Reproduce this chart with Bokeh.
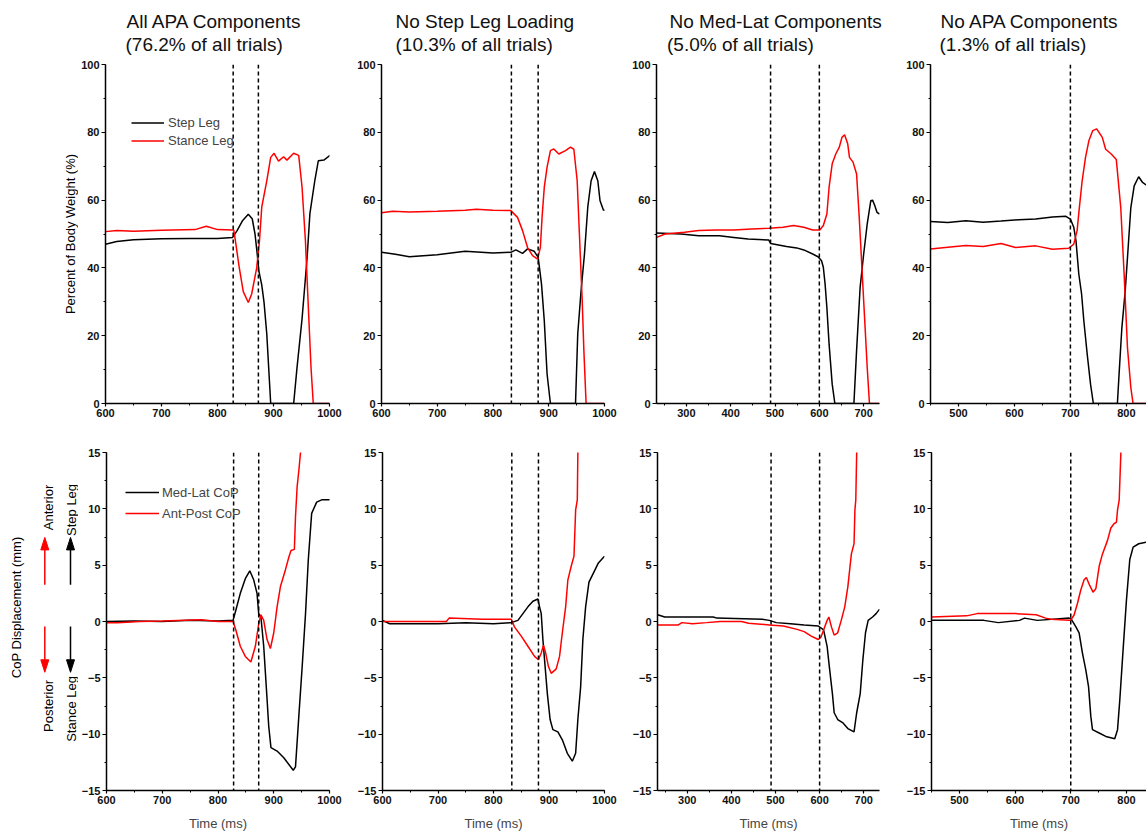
import math
from bokeh.plotting import figure
from bokeh.layouts import row, column
from bokeh.models import Range1d, Span, Legend, LegendItem, SingleIntervalTicker
from bokeh.embed import file_html
from bokeh.resources import INLINE
from bokeh.core.properties import value

FONT = "Liberation Sans"
BLACK = "#000000"
RED = "#ff0000"

# ---------------- data (time in ms, body weight %, CoP mm) ----------------
# Panel A: All APA Components
A_step_t = [600, 620, 650, 700, 750, 800, 827, 835, 845, 855, 862, 867, 871, 874, 879, 883, 888, 895, 936, 942, 951, 960, 965, 974, 980, 990, 1001]
A_step_v = [47.0, 47.8, 48.3, 48.6, 48.7, 48.7, 49.0, 51.0, 54.0, 55.8, 54.5, 50.0, 44.0, 39.0, 35.0, 30.0, 20.5, 0.0, 0.0, 10.6, 25.0, 43.0, 56.0, 66.0, 71.6, 71.8, 73.2]
A_stance_t = [600, 620, 650, 700, 760, 780, 800, 829, 832, 838, 846, 855, 861, 870, 875, 879, 888, 895, 901, 909, 918, 924, 936, 945, 951, 957, 963, 967, 971, 1000]
A_stance_v = [50.7, 51.0, 50.8, 51.1, 51.3, 52.3, 51.3, 51.2, 48.0, 41.0, 33.0, 29.8, 32.3, 40.0, 48.0, 57.9, 65.7, 72.6, 73.8, 71.5, 72.8, 71.8, 73.8, 73.2, 63.8, 48.0, 25.4, 10.6, 0.0, 0.0]
A_ml_t = [600, 650, 700, 750, 800, 827, 832, 840, 849, 857, 864, 870, 873, 877, 882, 887, 891, 895, 906, 918, 935, 939, 945, 951, 957, 962, 968, 977, 986, 1001]
A_ml_v = [0.0, 0.05, 0.0, 0.1, 0.05, 0.1, 1.0, 2.5, 3.8, 4.5, 3.7, 2.5, 0.7, 0.4, -2.2, -6.1, -9.3, -11.2, -11.5, -12.1, -13.2, -12.9, -8.4, -4.0, 0.7, 5.5, 9.6, 10.6, 10.8, 10.8]
A_ap_t = [600, 620, 660, 700, 770, 800, 827, 832, 840, 849, 859, 867, 873, 877, 882, 888, 894, 900, 906, 912, 921, 927, 931, 937, 939, 942, 945, 948, 952]
A_ap_v = [-0.1, -0.1, 0.0, 0.05, 0.15, 0.0, 0.0, -0.75, -2.2, -3.1, -3.6, -2.2, -0.2, 0.6, 0.1, -1.6, -2.4, -1.0, 1.3, 3.1, 4.6, 5.7, 6.3, 6.4, 9.3, 12.0, 13.4, 15.0, 18.0]

# Panel B: No Step Leg Loading
B_step_t = [600, 625, 650, 700, 750, 800, 832, 841, 853, 862, 874, 881, 884, 887, 892, 897, 903, 948, 952, 958, 964, 970, 976, 982, 988, 992, 998, 1001]
B_step_v = [44.6, 44.0, 43.3, 43.9, 44.9, 44.4, 44.6, 45.3, 44.3, 45.6, 44.9, 43.1, 39.2, 35.2, 24.4, 8.7, 0.0, 0.0, 20.5, 33.3, 44.0, 57.9, 65.7, 68.4, 65.7, 59.8, 57.1, 57.0]
B_stance_t = [600, 620, 650, 700, 750, 770, 800, 832, 844, 853, 862, 871, 880, 885, 888, 892, 897, 903, 909, 918, 930, 939, 945, 951, 955, 960, 963, 967, 1000]
B_stance_v = [56.3, 56.7, 56.5, 56.7, 57.0, 57.3, 57.0, 56.9, 54.9, 51.0, 46.0, 43.6, 42.6, 46.1, 54.9, 63.8, 69.7, 74.6, 75.1, 73.6, 74.6, 75.6, 75.0, 65.7, 50.0, 30.3, 15.6, 0.0, 0.0]
B_ml_t = [600, 613, 650, 700, 750, 800, 832, 844, 853, 862, 871, 880, 883, 886, 889, 893, 897, 902, 907, 916, 924, 933, 942, 948, 952, 957, 961, 966, 972, 980, 989, 1000]
B_ml_v = [0.1, -0.2, -0.2, -0.2, -0.1, -0.2, -0.1, 0.1, 0.7, 1.3, 1.8, 2.0, 1.3, 0.7, -1.6, -4.0, -6.4, -8.7, -9.6, -9.8, -10.5, -11.7, -12.4, -11.7, -8.7, -5.8, -1.6, 1.3, 3.5, 4.3, 5.2, 5.8]
B_ap_t = [600, 650, 715, 720, 780, 832, 838, 850, 862, 874, 881, 886, 890, 894, 899, 904, 913, 919, 924, 930, 934, 940, 945, 948, 951, 952, 956]
B_ap_v = [0.0, 0.0, 0.0, 0.3, 0.2, 0.2, -0.5, -1.3, -2.2, -3.1, -3.4, -2.8, -2.1, -2.8, -4.0, -4.6, -4.2, -3.1, -1.0, 1.3, 3.7, 4.9, 5.8, 9.9, 10.8, 15.0, 18.0]

# Panel C: No Med-Lat Components
C_step_t = [233, 288, 328, 375, 407, 439, 486, 490, 526, 549, 565, 585, 597, 605, 609, 613, 617, 622, 629, 635, 678, 684, 692, 700, 708, 716, 720, 725, 730, 736]
C_step_v = [50.3, 50.0, 49.5, 49.5, 49.0, 48.5, 48.2, 47.2, 46.3, 45.9, 45.3, 44.1, 43.3, 42.1, 40.2, 35.2, 28.3, 17.5, 5.7, 0.0, 0.0, 15.6, 34.3, 44.1, 53.0, 59.8, 60.0, 58.4, 56.4, 55.9]
C_stance_t = [233, 252, 296, 328, 367, 407, 447, 486, 518, 542, 565, 585, 601, 609, 617, 622, 629, 637, 645, 651, 657, 664, 668, 676, 684, 690, 696, 702, 708, 713, 736]
C_stance_v = [49.0, 50.0, 50.5, 51.0, 51.2, 51.2, 51.5, 51.7, 52.0, 52.5, 52.0, 51.2, 51.2, 52.5, 55.9, 63.8, 70.7, 73.6, 75.6, 78.5, 79.3, 76.6, 72.6, 71.2, 67.7, 54.9, 40.2, 25.4, 10.6, 0.0, 0.0]
C_ml_t = [233, 249, 359, 367, 470, 486, 502, 534, 565, 597, 609, 617, 622, 629, 633, 641, 653, 664, 678, 684, 692, 698, 704, 710, 720, 728, 736]
C_ml_v = [0.6, 0.4, 0.4, 0.3, 0.2, 0.1, -0.1, -0.2, -0.3, -0.4, -0.75, -2.2, -4.0, -6.4, -8.1, -8.7, -9.0, -9.5, -9.8, -8.1, -6.4, -3.4, -1.0, 0.1, 0.4, 0.7, 1.1]
C_ap_t = [233, 280, 288, 312, 344, 375, 423, 439, 486, 518, 549, 565, 581, 597, 603, 609, 617, 621, 627, 633, 641, 649, 657, 664, 672, 678, 680, 682, 684, 688]
C_ap_v = [-0.3, -0.3, -0.1, -0.2, -0.1, 0.0, 0.0, -0.15, -0.3, -0.4, -0.7, -0.9, -1.3, -1.6, -1.4, -0.75, 0.1, 0.4, -0.5, -1.2, -1.0, 0.1, 1.3, 3.1, 6.0, 6.9, 9.9, 10.8, 15.0, 18.0]

# Panel D: No APA Components
D_step_t = [450, 481, 513, 544, 576, 608, 638, 668, 692, 700, 706, 710, 715, 720, 724, 730, 736, 741, 784, 787, 792, 798, 802, 808, 814, 822, 829, 841]
D_step_v = [53.7, 53.4, 53.9, 53.5, 53.8, 54.2, 54.4, 55.0, 55.2, 54.4, 52.0, 48.0, 38.2, 32.3, 24.4, 14.6, 5.7, 0.0, 0.0, 8.7, 22.4, 33.3, 43.0, 57.8, 64.2, 66.9, 65.2, 63.8]
D_stance_t = [450, 481, 513, 544, 576, 602, 638, 668, 697, 706, 712, 716, 721, 727, 733, 740, 747, 757, 763, 773, 782, 790, 796, 802, 808, 812, 841]
D_stance_v = [45.6, 46.1, 46.6, 46.3, 47.2, 46.0, 46.5, 45.5, 45.8, 47.0, 51.0, 57.8, 65.7, 72.6, 77.5, 80.5, 81.0, 78.5, 75.0, 73.6, 72.0, 57.8, 38.2, 16.5, 4.7, 0.0, 0.0]
D_ml_t = [450, 544, 570, 608, 617, 640, 697, 700, 709, 715, 721, 727, 732, 736, 739, 751, 763, 779, 784, 788, 794, 800, 806, 812, 822, 841]
D_ml_v = [0.1, 0.1, -0.1, 0.1, 0.3, 0.1, 0.3, 0.28, -0.46, -1.0, -2.8, -4.3, -5.8, -8.4, -9.6, -9.9, -10.2, -10.4, -9.6, -7.0, -2.5, 1.9, 5.5, 6.6, 6.9, 7.1]
D_ap_t = [450, 513, 532, 576, 601, 638, 655, 665, 697, 700, 706, 712, 718, 724, 728, 734, 740, 745, 751, 757, 766, 772, 778, 782, 784, 787, 790, 794]
D_ap_v = [0.4, 0.5, 0.7, 0.7, 0.7, 0.6, 0.3, 0.2, 0.1, 0.13, 0.58, 1.6, 2.8, 3.7, 3.9, 3.2, 2.6, 2.9, 4.9, 6.0, 7.2, 8.3, 8.7, 8.8, 9.9, 10.8, 15.0, 18.0]

titles = ["All APA Components", "No Step Leg Loading", "No Med-Lat Components", "No APA Components"]
subtitles = ["(76.2% of all trials)", "(10.3% of all trials)", "(5.0% of all trials)", "(1.3% of all trials)"]
x_starts = [600, 600, 232.7, 450]
x_ends = [1000, 1000, 735.7, 836]
event_times = [[828, 873], [833, 881], [490, 600], [700]]

top_series = [(A_step_t, A_step_v, A_stance_t, A_stance_v),
              (B_step_t, B_step_v, B_stance_t, B_stance_v),
              (C_step_t, C_step_v, C_stance_t, C_stance_v),
              (D_step_t, D_step_v, D_stance_t, D_stance_v)]
bot_series = [(A_ml_t, A_ml_v, A_ap_t, A_ap_v),
              (B_ml_t, B_ml_v, B_ap_t, B_ap_v),
              (C_ml_t, C_ml_v, C_ap_t, C_ap_v),
              (D_ml_t, D_ml_v, D_ap_t, D_ap_v)]

# ---------------- layout constants (px) ----------------
STRIP_W = 78
FIG_W = [276, 275, 274, 243]
B_LEFT = [26, 25, 25, 25]
B_RIGHT = [25, 25, 24, 0]
TOTAL_W = STRIP_W + sum(FIG_W)
HEAD_H = 58
TOP_H, TOP_BT, TOP_BB = 370, 6, 25
BOT_H, BOT_BT, BOT_BB = 406, 24, 44
TITLE_X1 = [126, 395, 669, 940]
TITLE_X2 = [125, 395, 666.5, 939]
TITLE_Y1 = 20.5   # distance of the anchor from the top of the page
TITLE_Y2 = 43.5


def base_fig(i, height, bt, bb, y0, y1, yint):
    p = figure(width=FIG_W[i], height=height,
               x_range=Range1d(x_starts[i], x_ends[i]), y_range=Range1d(y0, y1),
               output_backend="svg", toolbar_location=None,
               min_border_left=B_LEFT[i], min_border_right=B_RIGHT[i],
               min_border_top=bt, min_border_bottom=bb)
    p.grid.visible = False
    p.outline_line_color = None
    p.background_fill_color = "white"
    p.border_fill_color = "white"
    p.xaxis.ticker = SingleIntervalTicker(interval=100, num_minor_ticks=2)
    p.yaxis.ticker = SingleIntervalTicker(interval=yint, num_minor_ticks=2)
    for ax in (p.xaxis, p.yaxis):
        ax.axis_line_width = 1.5
        ax.axis_line_color = BLACK
        ax.major_tick_line_width = 1.2
        ax.minor_tick_line_width = 1.0
        ax.major_tick_in = 0
        ax.minor_tick_in = 0
        ax.minor_tick_out = 2
        ax.major_label_text_font = FONT
        ax.major_label_text_font_size = "11px"
        ax.major_label_text_font_style = "bold"
        ax.major_label_text_color = "#111111"
    p.yaxis.major_tick_out = 4
    p.xaxis.major_tick_out = 3
    p.yaxis.major_label_standoff = 2
    p.xaxis.major_label_standoff = 2
    for t in event_times[i]:
        p.add_layout(Span(location=t, dimension="height", line_color=BLACK,
                          line_width=1.5, line_dash="4 3"))
    return p


top_figs, bot_figs = [], []
for i in range(4):
    # top row: body weight
    p = base_fig(i, TOP_H, TOP_BT, TOP_BB, 0, 100, 20)
    st, sv, nt, nv = top_series[i]
    r1 = p.line(st, sv, line_color=BLACK, line_width=1.5)
    r2 = p.line(nt, nv, line_color=RED, line_width=1.5)
    if i == 0:
        leg = Legend(items=[LegendItem(label="Step Leg", renderers=[r1]),
                            LegendItem(label="Stance Leg", renderers=[r2])],
                     location=(26, 255), padding=0, margin=0, spacing=3,
                     glyph_width=33, glyph_height=15, label_height=15, label_standoff=4,
                     label_text_font=FONT, label_text_font_size="13px",
                     background_fill_alpha=0, border_line_alpha=0)
        p.add_layout(leg)
    top_figs.append(p)

    # bottom row: CoP displacement
    q = base_fig(i, BOT_H, BOT_BT, BOT_BB, -15, 15, 5)
    mt, mv, at, av = bot_series[i]
    s1 = q.line(mt, mv, line_color=BLACK, line_width=1.5)
    s2 = q.line(at, av, line_color=RED, line_width=1.5)
    q.xaxis.axis_label = "Time (ms)"
    q.xaxis.axis_label_text_font = FONT
    q.xaxis.axis_label_text_font_size = "13px"
    q.xaxis.axis_label_text_font_style = "normal"
    q.xaxis.axis_label_standoff = 9
    if i == 0:
        leg = Legend(items=[LegendItem(label="Med-Lat CoP", renderers=[s1]),
                            LegendItem(label="Ant-Post CoP", renderers=[s2])],
                     location=(19, 268), padding=0, margin=0, spacing=3,
                     glyph_width=34, glyph_height=18, label_height=18, label_standoff=3,
                     label_text_font=FONT, label_text_font_size="13px",
                     background_fill_alpha=0, border_line_alpha=0)
        q.add_layout(leg)
    bot_figs.append(q)


def plain(width, height):
    s = figure(width=width, height=height, x_range=Range1d(0, width), y_range=Range1d(0, height),
               output_backend="svg", toolbar_location=None, min_border=0,
               x_axis_location=None, y_axis_location=None)
    s.grid.visible = False
    s.outline_line_color = None
    s.border_fill_color = "white"
    return s


def vtext(s, x, y, txt, color=BLACK):
    s.text(x=[x], y=[y], text=[txt], angle=math.pi / 2, text_align="center",
           text_baseline="middle", text_font=value(FONT), text_font_size="13px", text_color=color)


def arrow(s, x, y_tail, y_tip, color):
    d = 1 if y_tip > y_tail else -1
    head_len, half_w = 15, 4
    s.segment(x0=[x], y0=[y_tail], x1=[x], y1=[y_tip - d * head_len * 0.6], line_color=color, line_width=1.5)
    s.patch([x - half_w, x, x + half_w], [y_tip - d * head_len, y_tip, y_tip - d * head_len],
            fill_color=color, line_color=color, line_width=1)


# header with the panel titles
header = plain(TOTAL_W, HEAD_H)
header.text(x=TITLE_X1, y=[HEAD_H - TITLE_Y1] * 4, text=titles, text_align="left",
            text_baseline="alphabetic", text_font=value(FONT), text_font_size="19px",
            text_color="#111111")
header.text(x=TITLE_X2, y=[HEAD_H - TITLE_Y2] * 4, text=subtitles, text_align="left",
            text_baseline="alphabetic", text_font=value(FONT), text_font_size="19px",
            text_color="#111111")

strip_top = plain(STRIP_W, TOP_H)
vtext(strip_top, 70, TOP_H - (243 - HEAD_H), "Percent of Body Weight (%)")

strip_bot = plain(STRIP_W, BOT_H)
Y0 = HEAD_H + TOP_H + BOT_H  # window y of the bottom edge of the bottom row
vtext(strip_bot, 16, Y0 - 614, "CoP Displacement (mm)")
vtext(strip_bot, 47.5, Y0 - 494, "Anterior")
vtext(strip_bot, 47.5, Y0 - 732.5, "Posterior")
vtext(strip_bot, 70.5, Y0 - 497, "Step Leg")
vtext(strip_bot, 70.5, Y0 - 736, "Stance Leg")
arrow(strip_bot, 44.3, Y0 - 587, Y0 - 530, RED)
arrow(strip_bot, 44.3, Y0 - 637, Y0 - 692, RED)
arrow(strip_bot, 70, Y0 - 587, Y0 - 530, BLACK)
arrow(strip_bot, 70, Y0 - 637, Y0 - 692, BLACK)

layout = column(header, row(strip_top, *top_figs), row(strip_bot, *bot_figs))
open("out.html", "w").write(file_html(layout, INLINE))
